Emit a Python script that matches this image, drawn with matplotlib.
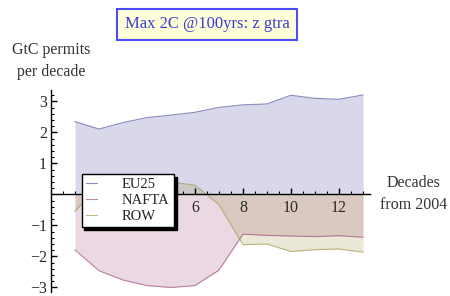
import numpy as np
import matplotlib.pyplot as plt
from matplotlib.ticker import MultipleLocator

plt.rcParams['font.family'] = ['Liberation Serif', 'DejaVu Serif']

decades = [1, 2, 3, 4, 5, 6, 7, 8, 9, 10, 11, 12, 13]
eu25 = [2.35, 2.11, 2.32, 2.48, 2.56, 2.65, 2.81, 2.89, 2.92, 3.20, 3.10, 3.07, 3.21]
nafta = [-1.79, -2.46, -2.76, -2.94, -3.00, -2.94, -2.44, -1.28, -1.32, -1.34, -1.36, -1.33, -1.38]
row = [-0.55, 0.35, 0.44, 0.46, 0.40, 0.30, -0.33, -1.62, -1.60, -1.84, -1.78, -1.76, -1.86]
names = ['EU25', 'NAFTA', 'ROW']
colors = [(0.24, 0.24, 0.6), (0.6, 0.24, 0.45), (0.6, 0.56, 0.24)]
xticks = [2, 4, 6, 8, 10, 12]
# 2 and 4 sit behind the legend in the original
xticklabels = ['', '', '6', '8', '10', '12']

fig = plt.figure(figsize=(4.5, 2.96), dpi=100)
ax = fig.add_axes([0.1133, 0.0142, 0.7093, 0.6818])

for vals, name, c in zip([eu25, nafta, row], names, colors):
    ax.fill_between(decades, 0, vals, color=c, alpha=0.2, lw=0)
    ax.plot(decades, vals, color=c, lw=0.8, alpha=0.6, label=name)

ax.set_xlim(0, 13.3)
ax.set_ylim(-3.14, 3.37)

for s in ['top', 'right']:
    ax.spines[s].set_visible(False)
ax.spines['bottom'].set_position(('data', 0))
ax.spines['bottom'].set_zorder(5)
ax.spines['left'].set_linewidth(1.0)
ax.spines['bottom'].set_linewidth(1.0)

ax.xaxis.set_minor_locator(MultipleLocator(0.5))
ax.yaxis.set_minor_locator(MultipleLocator(0.2))
ax.set_xticks(xticks)
ax.set_xticklabels(xticklabels)
ax.set_yticks([-3, -2, -1, 1, 2, 3])
ax.tick_params(which='major', direction='in', length=4, width=1, labelsize=11.5,
               labelcolor='#2a2a2a', pad=3)
ax.tick_params(which='minor', direction='in', length=2, width=0.8)
ax.tick_params(axis='x', pad=4)

leg = ax.legend(loc='upper left', bbox_to_anchor=(81.5 / 450, 1 - 174 / 296),
                bbox_transform=fig.transFigure, fontsize=10.5, frameon=True,
                fancybox=False, shadow={'color': 'black', 'alpha': 1},
                handlelength=0.8, handletextpad=1.7, labelspacing=0.18,
                borderpad=0.28, borderaxespad=0, edgecolor='black')
leg.get_frame().set_linewidth(1.0)
leg.set_zorder(10)
for t in leg.get_texts():
    t.set_color('#222222')

fig.text(51 / 450, 1 - 61 / 296, 'GtC permits\nper decade', ha='center', va='center',
         fontsize=11.5, color='#333333', linespacing=1.45)
fig.text(414 / 450, 1 - 194 / 296, 'Decades\nfrom 2004', ha='center', va='center',
         fontsize=11.5, color='#333333', linespacing=1.45)
fig.text(207 / 450, 1 - 24 / 296, 'Max 2C @100yrs: z gtra', ha='center', va='center',
         fontsize=12, color='#3a3ad8',
         bbox=dict(boxstyle='square,pad=0.45', facecolor='#ffffd8', edgecolor='#4c4cff', lw=1.5))

fig.savefig('out.png', dpi=100)
